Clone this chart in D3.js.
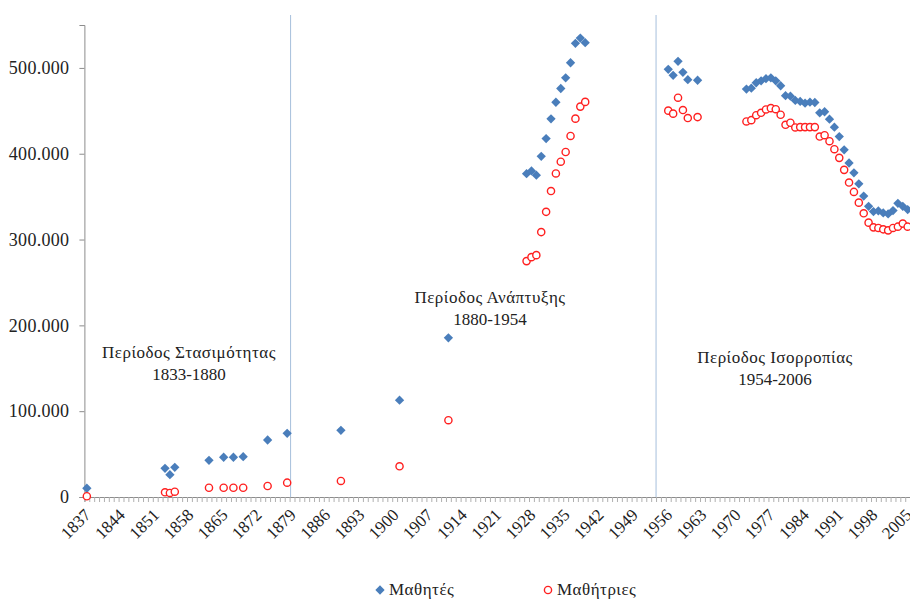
<!DOCTYPE html>
<html><head><meta charset="utf-8">
<script src="https://cdn.jsdelivr.net/npm/d3@7"></script>
<style>body{margin:0;background:#fff}svg{display:block}
svg text{font-family:"Liberation Serif","Times New Roman","DejaVu Serif",serif;}</style>
</head><body><svg id="c" width="910" height="599"></svg>
<script>
// ---- data ----
const boysYears = [1837,1853,1854,1855,1862,1865,1867,1869,1874,1878,1889,1901,1911,
  1927,1928,1929,1930,1931,1932,1933,1934,1935,1936,1937,1938,1939,
  1956,1957,1958,1959,1960,1962,
  1972,1973,1974,1975,1976,1977,1978,1979,1980,1981,1982,1983,1984,1985,1986,1987,1988,1989,1990,1991,1992,1993,1994,1995,1996,1997,1998,1999,2000,2001,2002,2003,2004,2005];
const boys = [10200,33400,26000,34600,42800,46300,46300,47000,66400,74200,77700,112800,185500,
  376700,380000,375000,397000,417700,440700,460000,476000,488500,506000,528600,534800,529400,
  498400,491400,507700,494900,486300,485600,
  475300,476400,482700,485000,487400,488500,485000,479200,467600,467100,462100,460900,458900,460100,459700,447700,448900,440300,430900,420000,404500,389200,377700,364900,350600,338700,332600,333400,331000,329900,333700,342200,338700,334900];
const girlsYears = boysYears;
const girls = [900,5500,4700,6200,10800,10800,10800,10800,12800,16700,18700,35800,89500,
  274900,279500,281800,308700,332300,356500,377000,390700,402000,420700,440900,454900,460400,
  450200,446700,465300,450900,441600,442700,
  437600,439100,444900,447700,451600,453100,451900,445400,433700,436100,430600,431000,431000,431000,431000,420000,421600,414600,405300,395200,381200,366400,355500,343000,330600,319700,314200,313500,311900,310700,313500,315000,318600,315000];
const seriesNames = ["Μαθητές","Μαθήτριες"];
const yTicks = [0,100000,200000,300000,400000,500000];
const firstYear = 1837, lastYear = 2006;
const labelYears = d3.range(1837, 2006, 7);
const dividers = [1878.7, 1953.5];
const periods = [
  {t1:"Περίοδος Στασιμότητας", t2:"1833-1880", cx:189, y:358},
  {t1:"Περίοδος Ανάπτυξης", t2:"1880-1954", cx:490, y:303},
  {t1:"Περίοδος Ισορροπίας", t2:"1954-2006", cx:775, y:363}
];

// ---- drawing ----
const svg = d3.select("#c");
const x = d3.scaleLinear().domain([firstYear-0.5, lastYear+0.5]).range([84.4, 915]);
const y = d3.scaleLinear().domain([0, 550000]).range([497, 25]);
const axisCol = "#8c8c8c";

// dividers
svg.selectAll("line.div").data(dividers).join("line")
  .attr("x1", d=>x(d)).attr("x2", d=>x(d)).attr("y1", 15).attr("y2", y(0))
  .attr("stroke", "#a7bfdc").attr("stroke-width", 1);

// y axis
const fmt = v => v===0 ? "0" : d3.format(",")(v).replace(/,/g, ".");
const yAxis = d3.axisLeft(y).tickValues(yTicks).tickFormat(fmt).tickSize(5).tickPadding(10);
const gy = svg.append("g").attr("transform", "translate(84.4,0)").call(yAxis);
gy.attr("font-family", null).attr("font-size", null);
gy.select(".domain").attr("stroke", axisCol);
gy.selectAll(".tick line").attr("stroke", axisCol);
gy.selectAll("text").style("font-size", "18px").style("letter-spacing", "0.3px").attr("fill", "#222");

// x axis minor ticks
const xAxis = d3.axisBottom(x).tickValues(d3.range(firstYear-0.5, lastYear+1, 1)).tickSize(5).tickFormat("");
const gx = svg.append("g").attr("transform", `translate(0,${y(0)})`).call(xAxis);
gx.select(".domain").attr("stroke", axisCol);
gx.selectAll(".tick line").attr("stroke", "#b0b0b0");
svg.append("g").selectAll("text").data(labelYears).join("text")
  .attr("transform", d=>`translate(${x(d)+5},${y(0)+19}) rotate(-45)`)
  .attr("text-anchor", "end").style("font-size", "17px").attr("fill", "#222")
  .text(d=>d);

// period labels
const pg = svg.append("g").style("font-size", "17px").style("letter-spacing", "0.5px").attr("fill", "#222").attr("text-anchor", "middle");
periods.forEach(p => {
  pg.append("text").attr("x", p.cx).attr("y", p.y).text(p.t1);
  pg.append("text").attr("x", p.cx).attr("y", p.y+22).style("letter-spacing", "0px").text(p.t2);
});

// series
const diamond = d3.symbol().type(d3.symbolDiamond2).size(55);
svg.append("g").selectAll("path").data(boysYears.map((yr,i)=>[yr, boys[i]])).join("path")
  .attr("d", diamond).attr("transform", d=>`translate(${x(d[0])},${y(d[1])})`)
  .attr("fill", "#4a7ebb");
svg.append("g").selectAll("circle").data(girlsYears.map((yr,i)=>[yr, girls[i]])).join("circle")
  .attr("cx", d=>x(d[0])).attr("cy", d=>y(d[1])).attr("r", 3.6)
  .attr("fill", "#fff").attr("stroke", "#ff2020").attr("stroke-width", 1.4);

// legend
const lg = svg.append("g").style("font-size", "17px").style("letter-spacing", "0.5px").attr("fill", "#222");
lg.append("path").attr("d", diamond).attr("transform", "translate(380,590)").attr("fill", "#4a7ebb");
lg.append("text").attr("x", 389).attr("y", 595).text(seriesNames[0]);
lg.append("circle").attr("cx", 548).attr("cy", 590).attr("r", 3.6).attr("fill", "#fff").attr("stroke", "#ff2020").attr("stroke-width", 1.4);
lg.append("text").attr("x", 557).attr("y", 595).text(seriesNames[1]);
</script></body></html>
